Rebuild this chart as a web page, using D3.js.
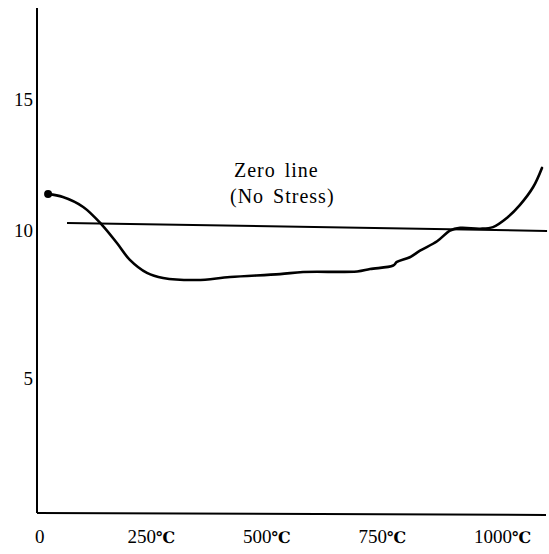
<!DOCTYPE html>
<html lang="en">
<meta charset="utf-8">
<title>Stress vs temperature</title>
<style>
    body { margin: 0; background: white; }
    svg  { display: block; }
</style>
<body>
<svg id="canvas"></svg>
<script src="https://cdn.jsdelivr.net/npm/d3@7/dist/d3.min.js"></script>
<script>

    ////////////////////// Data ///////////////////////
    // temperature (deg C) along the curve
    var temps      = [24, 56, 100, 141, 173, 201, 238, 273, 346, 418, 526, 576,
                      693, 721, 771, 779, 807, 829, 866, 894, 916, 959, 987,
                      1017, 1045, 1074, 1093];
    // reading at each temperature
    var values     = [11.37, 11.26, 10.88, 10.19, 9.56, 8.99, 8.55, 8.38, 8.31,
                      8.41, 8.51, 8.58, 8.6, 8.68, 8.8, 8.92, 9.08, 9.3,
                      9.62, 9.98, 10.08, 10.05, 10.11, 10.46, 10.95, 11.64, 12.37];
    // the "zero line" (no stress), two ends
    var zero_temps  = [65, 1104];
    var zero_values = [10.27, 9.97];
    // tick labels
    var x_ticks    = [0, 250, 500, 750, 1000];
    var x_labels   = ["0", "250", "500", "750", "1000"];
    var x_unit     = "℃";
    var y_ticks    = [5, 10, 15];
    var y_labels   = ["5", "10", "15"];
    var note_lines = ["Zero line", "(No Stress)"];
    ///////////////////////////////////////////////////

    ///////// Position and Dimension Variables ////////
    var dimensions = [549, 554];
    var axis_left  = 37;
    var axis_top   = 8;
    var axis_bot   = 513;
    var axis_right = 546;
    ///////////////////////////////////////////////////

    ///////////////// Style Variables /////////////////
    var ink        = '#000';
    var font       = '"Liberation Serif", "DejaVu Serif", serif';
    var tick_size  = 19;
    var note_size  = 20;
    ///////////////////////////////////////////////////

    // the figure is hand drawn, so the y ticks are not evenly spaced
    var x = d3.scaleLinear().domain([0, 1000]).range([37, 499]);
    var y = d3.scaleLinear().domain([0, 5, 10, 15]).range([axis_bot, 378, 230, 99]);

    var canvas = d3.select("#canvas")
        .attr('width',  dimensions[0])
        .attr('height', dimensions[1])
        .style('background-color', 'white');

    //////////////////// axes /////////////////////////
    canvas.append("line")
        .attr('x1', axis_left).attr('y1', axis_top)
        .attr('x2', axis_left).attr('y2', axis_bot)
        .attr('stroke', ink)
        .attr('stroke-width', 2);
    canvas.append("line")
        .attr('x1', axis_left).attr('y1', axis_bot)
        .attr('x2', axis_right).attr('y2', axis_bot + 2)
        .attr('stroke', ink)
        .attr('stroke-width', 2);

    var xlab = canvas.selectAll(".xlab")
        .data(x_ticks)
        .enter().append("text")
        .attr('class', 'xlab')
        .attr('x', function (d, i) { return i == 0 ? x(d) - 2 : x(d) - 25; })
        .attr('y', 543)
        .attr('font-family', font)
        .attr('font-size', tick_size)
        .attr('fill', ink)
        .text(function (d, i) { return x_labels[i]; });
    xlab.filter(function (d, i) { return i > 0; })
        .append("tspan")
        .attr('font-size', 16)
        .attr('font-family', '"DejaVu Serif", serif')
        .attr('font-weight', 'bold')
        .attr('letter-spacing', -1)
        .text(x_unit);

    canvas.selectAll(".ylab")
        .data(y_ticks)
        .enter().append("text")
        .attr('class', 'ylab')
        .attr('x', axis_left - 4)
        .attr('y', function (d) { return y(d); })
        .attr('dy', '0.35em')
        .attr('text-anchor', 'end')
        .attr('font-family', font)
        .attr('font-size', 19)
        .attr('fill', ink)
        .text(function (d, i) { return y_labels[i]; });
    ///////////////////////////////////////////////////

    //////////////////// zero line ////////////////////
    canvas.append("line")
        .attr('x1', x(zero_temps[0])).attr('y1', y(zero_values[0]))
        .attr('x2', x(zero_temps[1])).attr('y2', y(zero_values[1]))
        .attr('stroke', ink)
        .attr('stroke-width', 2);

    canvas.append("text")
        .attr('x', 234)
        .attr('y', 177)
        .attr('font-family', font)
        .attr('font-size', note_size)
        .attr('letter-spacing', 1)
        .attr('word-spacing', 3)
        .attr('fill', ink)
        .text(note_lines[0])
        .append("tspan")
        .attr('x', 230)
        .attr('dy', 26)
        .text(note_lines[1]);
    ///////////////////////////////////////////////////

    ///////////////////// curve ///////////////////////
    var pts  = temps.map(function (t, i) { return [t, values[i]]; });
    var line = d3.line()
        .x(function (d) { return x(d[0]); })
        .y(function (d) { return y(d[1]); })
        .curve(d3.curveCatmullRom);

    canvas.append("path")
        .attr('d', line(pts))
        .attr('fill', 'none')
        .attr('stroke', ink)
        .attr('stroke-width', 2.6)
        .attr('stroke-linecap', 'round');

    canvas.append("circle")
        .attr('cx', x(pts[0][0]))
        .attr('cy', y(pts[0][1]))
        .attr('r', 4)
        .attr('fill', ink);
    ///////////////////////////////////////////////////

</script>
</body>
</html>
